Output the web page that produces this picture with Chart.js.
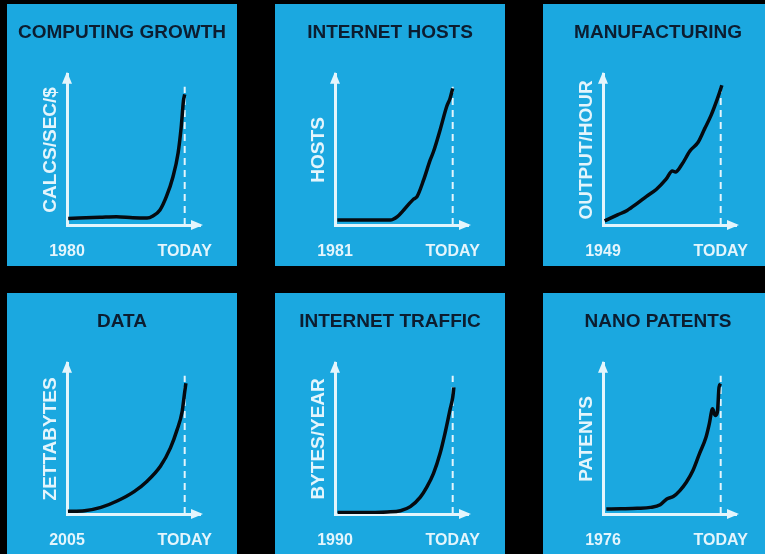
<!DOCTYPE html>
<html lang="en">
<head>
  <meta charset="UTF-8">
  <title>Exponential Growth</title>
  <style>
    html, body {
      margin: 0;
      background: #000;
      width: 765px;
      height: 554px;
      overflow: hidden;
    }
    .panel {
      position: absolute;
      width: 230px;
      height: 262px;
      background: #1ba8e0;
    }
  </style>
</head>
<body>

  <div class="panel" style="left:7px;top:4px"><canvas id="c0" width="230" height="262"></canvas></div>
  <div class="panel" style="left:275px;top:4px"><canvas id="c1" width="230" height="262"></canvas></div>
  <div class="panel" style="left:543px;top:4px"><canvas id="c2" width="230" height="262"></canvas></div>
  <div class="panel" style="left:7px;top:293px"><canvas id="c3" width="230" height="262"></canvas></div>
  <div class="panel" style="left:275px;top:293px"><canvas id="c4" width="230" height="262"></canvas></div>
  <div class="panel" style="left:543px;top:293px"><canvas id="c5" width="230" height="262"></canvas></div>

  <script src="https://cdn.jsdelivr.net/npm/chart.js@4"></script>

  <script>
    // titles and axis labels
    const titles = ['COMPUTING GROWTH', 'INTERNET HOSTS', 'MANUFACTURING', 'DATA', 'INTERNET TRAFFIC', 'NANO PATENTS'];
    const yTitles = ['CALCS/SEC/$', 'HOSTS', 'OUTPUT/HOUR', 'ZETTABYTES', 'BYTES/YEAR', 'PATENTS'];
    const startYears = ['1980', '1981', '1949', '2005', '1990', '1976'];
    const endLabel = 'TODAY';

    // curves, x: 0 = start year, 1 = today ; y: share of axis height
    const compX = [0.01, 0.28, 0.42, 0.56, 0.68, 0.73, 0.79, 0.845, 0.90, 0.944, 0.97, 0.99, 1.0];
    const compY = [0.044, 0.051, 0.055, 0.048, 0.046, 0.06, 0.10, 0.19, 0.32, 0.48, 0.65, 0.83, 0.87];

    const hostsX = [0.02, 0.47, 0.53, 0.584, 0.669, 0.697, 0.753, 0.809, 0.837, 0.893, 0.949, 0.978, 1.0];
    const hostsY = [0.033, 0.033, 0.056, 0.10, 0.173, 0.189, 0.30, 0.433, 0.489, 0.633, 0.789, 0.844, 0.91];

    const mfgX = [0.014, 0.123, 0.205, 0.288, 0.37, 0.452, 0.534, 0.589, 0.616, 0.671, 0.74, 0.808, 0.863, 0.918, 0.973, 1.01];
    const mfgY = [0.027, 0.067, 0.097, 0.142, 0.191, 0.236, 0.303, 0.36, 0.353, 0.404, 0.494, 0.551, 0.64, 0.73, 0.843, 0.93];

    const dataX = [0.008, 0.149, 0.289, 0.43, 0.57, 0.683, 0.795, 0.879, 0.935, 0.978, 1.0, 1.01];
    const dataY = [0.018, 0.022, 0.044, 0.088, 0.149, 0.22, 0.319, 0.44, 0.56, 0.681, 0.813, 0.87];

    const trafficX = [0.022, 0.219, 0.444, 0.556, 0.64, 0.725, 0.781, 0.837, 0.893, 0.935, 0.978, 1.0, 1.01];
    const trafficY = [0.01, 0.01, 0.014, 0.022, 0.049, 0.112, 0.18, 0.27, 0.404, 0.539, 0.697, 0.775, 0.843];

    const nanoX = [0.028, 0.153, 0.292, 0.403, 0.486, 0.542, 0.597, 0.653, 0.708, 0.764, 0.819, 0.875, 0.903, 0.931, 0.953, 0.972, 0.986, 1.0];
    const nanoY = [0.033, 0.035, 0.038, 0.044, 0.062, 0.10, 0.116, 0.156, 0.211, 0.289, 0.40, 0.511, 0.60, 0.70, 0.656, 0.678, 0.844, 0.867];

    const todayTop = 0.92;

    const curvesX = [compX, hostsX, mfgX, dataX, trafficX, nanoX];
    const curvesY = [compY, hostsY, mfgY, dataY, trafficY, nanoY];

    const FONT = '"Liberation Sans", Arial, sans-serif';
    const WHITE = '#e4f5fc';
    const NAVY = '#0c1d30';

    // arrow heads at the end of both axes
    const arrowPlugin = {
      id: 'arrows',
      afterDraw(chart) {
        const { ctx, chartArea: a } = chart;
        ctx.save();
        ctx.fillStyle = WHITE;
        ctx.beginPath();
        ctx.moveTo(a.left, a.top - 3);
        ctx.lineTo(a.left - 5, a.top + 9);
        ctx.lineTo(a.left + 5, a.top + 9);
        ctx.closePath();
        ctx.fill();
        ctx.beginPath();
        ctx.moveTo(a.right + 3, a.bottom);
        ctx.lineTo(a.right - 9, a.bottom - 5);
        ctx.lineTo(a.right - 9, a.bottom + 5);
        ctx.closePath();
        ctx.fill();
        ctx.restore();
      }
    };

    function createPanel(i) {
      const ctx = document.getElementById('c' + i).getContext('2d');
      const points = curvesX[i].map((x, k) => ({ x: x, y: curvesY[i][k] }));
      return new Chart(ctx, {
        type: 'line',
        data: {
          datasets: [{
            data: points,
            borderColor: '#050a10',
            borderWidth: 3.5,
            pointRadius: 0,
            cubicInterpolationMode: 'monotone',
            fill: false,
            order: 1
          }, {
            data: [{ x: 1, y: 0 }, { x: 1, y: todayTop }],
            borderColor: WHITE,
            borderWidth: 2,
            borderDash: [7, 5],
            pointRadius: 0,
            order: 2
          }]
        },
        options: {
          responsive: false,
          animation: false,
          layout: { padding: 0 },
          plugins: {
            legend: { display: false },
            tooltip: { enabled: false },
            title: {
              display: true,
              text: titles[i],
              color: NAVY,
              font: { family: FONT, size: 19, weight: 'bold' },
              padding: { top: 17, bottom: 31 }
            }
          },
          scales: {
            x: {
              type: 'linear',
              min: 0,
              max: 1.13,
              grid: { display: false, drawTicks: false },
              border: { display: true, color: WHITE, width: 3 },
              afterBuildTicks: (s) => { s.ticks = [{ value: 0 }, { value: 1 }]; },
              afterFit: (s) => { s.height = 41; },
              ticks: {
                color: WHITE,
                padding: 17,
                maxRotation: 0,
                autoSkip: false,
                font: { family: FONT, size: 16, weight: 'bold' },
                callback: (v) => (v === 0 ? startYears[i] : endLabel)
              }
            },
            y: {
              min: 0,
              max: 1,
              grid: { display: false, drawTicks: false },
              border: { display: true, color: WHITE, width: 3 },
              ticks: { display: false },
              afterFit: (s) => { s.width = 60; },
              title: {
                display: true,
                text: yTitles[i],
                color: WHITE,
                font: { family: FONT, size: 19, weight: 'bold' },
                padding: { top: 32, bottom: 0 }
              }
            },
            // empty right-hand strip so the title stays centred on the panel
            yRight: {
              position: 'right',
              min: 0,
              max: 1,
              grid: { display: false, drawTicks: false },
              border: { display: false },
              ticks: { display: false },
              afterFit: (s) => { s.width = 37; }
            }
          }
        },
        plugins: [arrowPlugin]
      });
    }

    for (let i = 0; i < 6; i++) createPanel(i);
  </script>

</body>
</html>
